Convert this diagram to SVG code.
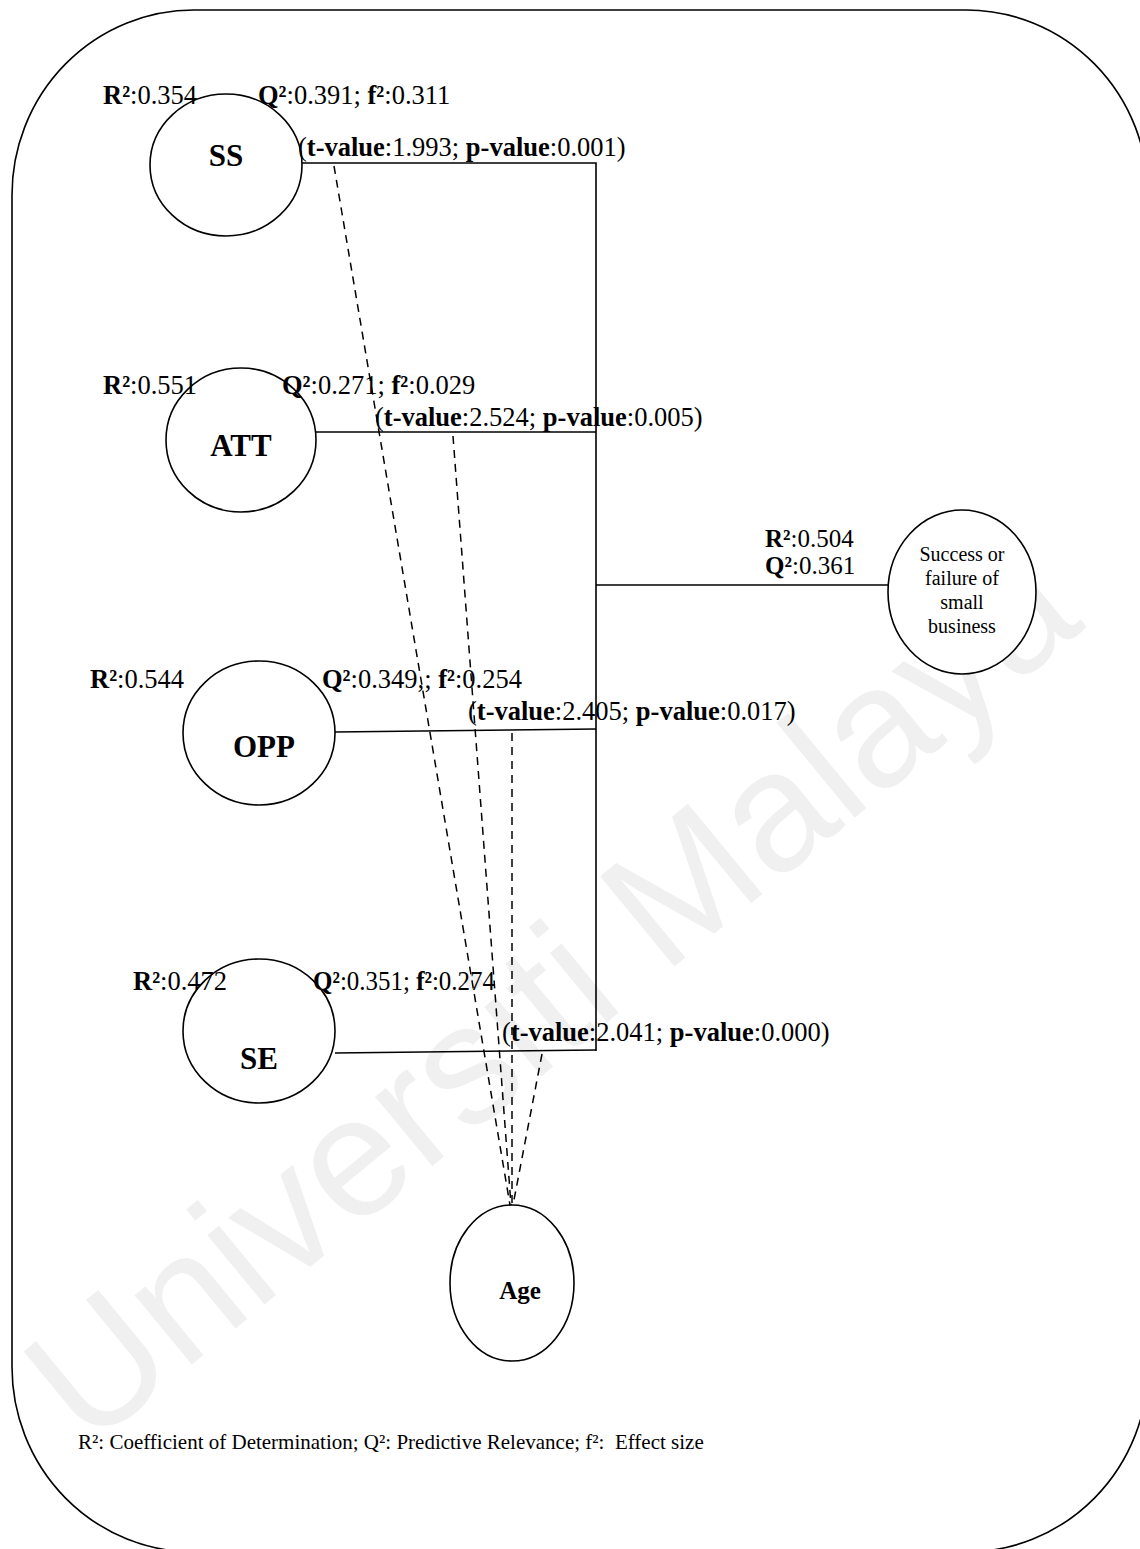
<svg xmlns="http://www.w3.org/2000/svg" width="1140" height="1549" viewBox="0 0 1140 1549">
<style>
.lbl{font-family:"Liberation Serif","Times New Roman",serif;font-size:26.5px;fill:#000}
.sm{font-size:25px}
.b{font-weight:bold}
.node{fill:#fff;stroke:#000;stroke-width:1.6}
.nt{font-family:"Liberation Serif","Times New Roman",serif;font-weight:bold;font-size:31px;text-anchor:middle}
.st{font-family:"Liberation Serif","Times New Roman",serif;font-size:20px;text-anchor:middle}
.cap{font-family:"Liberation Serif","Times New Roman",serif;font-size:21px;white-space:pre}
.wm{font-family:"Liberation Sans",Arial,sans-serif;font-size:170px;fill:#f0f0f0}
.ln{stroke:#000;stroke-width:1.6;fill:none}
.ds{stroke:#000;stroke-width:1.5;fill:none;stroke-dasharray:8 6}
</style>
<rect x="0" y="0" width="1140" height="1549" fill="#fff"/>
<text class="wm" x="88" y="1450" transform="rotate(-39.5 88 1450)">Universiti Malaya</text>
<rect x="12" y="10" width="1136" height="1542" rx="182" ry="185" fill="none" stroke="#000" stroke-width="1.6"/>
<g id="connectors">
<polyline class="ln" points="302,163 596,163 596,1051"/>
<line class="ln" x1="316" y1="432" x2="596" y2="432"/>
<line class="ln" x1="335" y1="732" x2="596" y2="729"/>
<line class="ln" x1="335" y1="1053" x2="596" y2="1050"/>
<line class="ln" x1="596" y1="585" x2="888" y2="585"/>
<line class="ds" x1="334" y1="166" x2="510" y2="1205"/>
<line class="ds" x1="453" y1="436" x2="511" y2="1205"/>
<line class="ds" x1="512" y1="733" x2="512" y2="1205"/>
<line class="ds" x1="542" y1="1054" x2="513" y2="1205"/>
</g>
<g id="SS">
<ellipse class="node" cx="226" cy="165" rx="76" ry="71"/>
<text class="nt" x="226" y="166">SS</text>
</g>
<g id="ATT">
<ellipse class="node" cx="241" cy="440" rx="75" ry="72"/>
<text class="nt" x="241" y="456">ATT</text>
</g>
<g id="OPP">
<ellipse class="node" cx="259" cy="733" rx="76" ry="72"/>
<text class="nt" x="264" y="757">OPP</text>
</g>
<g id="SE">
<ellipse class="node" cx="259" cy="1031" rx="76" ry="72"/>
<text class="nt" x="259" y="1069">SE</text>
</g>
<g id="Age">
<ellipse class="node" cx="512" cy="1283" rx="62" ry="78"/>
<text class="nt" x="520" y="1299" style="font-size:25px">Age</text>
</g>
<g id="Success">
<ellipse class="node" cx="962" cy="592" rx="74" ry="82"/>
<text class="st" x="962" y="561">Success or</text>
<text class="st" x="962" y="585">failure of</text>
<text class="st" x="962" y="609">small</text>
<text class="st" x="962" y="633">business</text>
</g>
<g id="labels">
<text class="lbl" x="103" y="104"><tspan class="b">R²</tspan>:0.354</text>
<text class="lbl" x="258" y="104"><tspan class="b">Q²</tspan>:0.391; <tspan class="b">f²</tspan>:0.311</text>
<text class="lbl" x="298" y="156">(<tspan class="b">t-value</tspan>:1.993; <tspan class="b">p-value</tspan>:0.001)</text>
<text class="lbl" x="103" y="394"><tspan class="b">R²</tspan>:0.551</text>
<text class="lbl" x="282" y="394"><tspan class="b">Q²</tspan>:0.271; <tspan class="b">f²</tspan>:0.029</text>
<text class="lbl" x="375" y="426">(<tspan class="b">t-value</tspan>:2.524; <tspan class="b">p-value</tspan>:0.005)</text>
<text class="lbl sm" x="765" y="547"><tspan class="b">R²</tspan>:0.504</text>
<text class="lbl sm" x="765" y="574"><tspan class="b">Q²</tspan>:0.361</text>
<text class="lbl" x="90" y="688"><tspan class="b">R²</tspan>:0.544</text>
<text class="lbl" x="322" y="688"><tspan class="b">Q²</tspan>:0.349,; <tspan class="b">f²</tspan>:0.254</text>
<text class="lbl" x="468" y="720">(<tspan class="b">t-value</tspan>:2.405; <tspan class="b">p-value</tspan>:0.017)</text>
<text class="lbl" x="133" y="990"><tspan class="b">R²</tspan>:0.472</text>
<text class="lbl" x="313" y="990" textLength="182" lengthAdjust="spacingAndGlyphs"><tspan class="b">Q²</tspan>:0.351; <tspan class="b">f²</tspan>:0.274</text>
<text class="lbl" x="502" y="1041">(<tspan class="b">t-value</tspan>:2.041; <tspan class="b">p-value</tspan>:0.000)</text>
<text class="cap" x="78" y="1449">R²: Coefficient of Determination; Q²: Predictive Relevance; f²:  Effect size</text>
</g>
</svg>
